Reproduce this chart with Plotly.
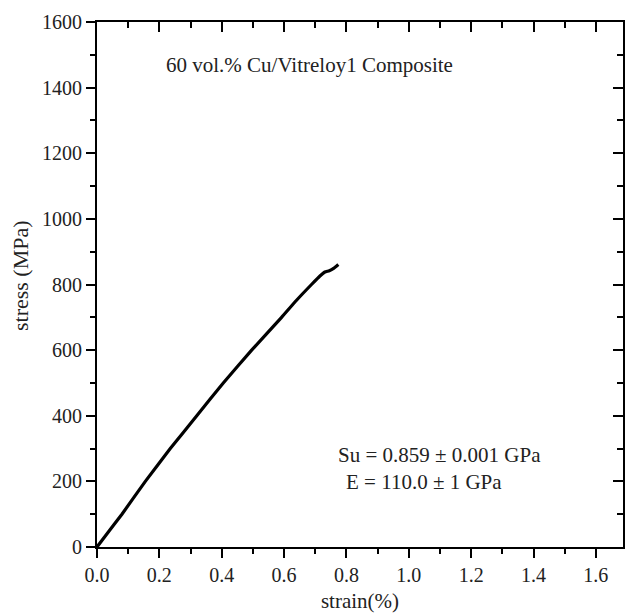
import plotly.graph_objects as go

strain = [0, 0.04, 0.08, 0.155, 0.235, 0.32, 0.405, 0.496, 0.592, 0.64, 0.688,
          0.715, 0.731, 0.745, 0.76, 0.774]
stress = [0, 50, 100, 200, 300, 400, 500, 600, 700, 752, 800,
          826, 838, 842, 850, 861]

x_ticks = [0.0, 0.2, 0.4, 0.6, 0.8, 1.0, 1.2, 1.4, 1.6]
x_labels = ["0.0", "0.2", "0.4", "0.6", "0.8", "1.0", "1.2", "1.4", "1.6"]
y_ticks = [0, 200, 400, 600, 800, 1000, 1200, 1400, 1600]

title_text = "60 vol.% Cu/Vitreloy1 Composite"
su_text = "Su = 0.859 ± 0.001 GPa"
e_text = "E = 110.0 ± 1 GPa"
x_title = "strain(%)"
y_title = "stress (MPa)"

FONT = "Liberation Serif"
XR = [0, 1.687]
YR = [0, 1600]

fig = go.Figure()
fig.add_trace(go.Scatter(x=strain, y=stress, mode="lines",
                         line=dict(color="black", width=3.2, shape="spline", smoothing=0.4),
                         showlegend=False))
# invisible trace for top/right axes
fig.add_trace(go.Scatter(x=[0], y=[0], xaxis="x2", yaxis="y2", mode="markers",
                         marker=dict(opacity=0), showlegend=False, hoverinfo="skip"))

axis_common = dict(showgrid=False, zeroline=False, showline=True, linecolor="black",
                   linewidth=2, tickcolor="black", tickwidth=2)

fig.update_layout(
    width=626, height=613,
    margin=dict(l=97, r=3, t=22, b=66),
    paper_bgcolor="white", plot_bgcolor="white",
    font=dict(family=FONT, size=20, color="#222"),
    xaxis=dict(range=XR, tickvals=x_ticks, ticktext=x_labels, ticks="outside",
               ticklen=9, tickfont=dict(size=20),
               minor=dict(dtick=0.1, ticks="outside", ticklen=5,
                          tickcolor="black", tickwidth=2),
               title=dict(text=x_title, font=dict(size=21), standoff=10),
               **axis_common),
    yaxis=dict(range=YR, tickvals=y_ticks, ticks="outside", ticklen=9,
               tickfont=dict(size=20),
               minor=dict(dtick=100, ticks="outside", ticklen=5,
                          tickcolor="black", tickwidth=2),
               **axis_common),
    xaxis2=dict(range=XR, overlaying="x", side="top", tickvals=x_ticks,
                showticklabels=False, ticks="inside", ticklen=10,
                minor=dict(dtick=0.1, ticks="inside", ticklen=6,
                           tickcolor="black", tickwidth=2),
                anchor="y2", **axis_common),
    yaxis2=dict(range=YR, overlaying="y", side="right", tickvals=y_ticks,
                showticklabels=False, ticks="inside", ticklen=10,
                minor=dict(dtick=100, ticks="inside", ticklen=6,
                           tickcolor="black", tickwidth=2),
                anchor="x2", **axis_common),
)

fig.add_annotation(x=-0.1464, y=0.518, xref="paper", yref="paper",
                   text=y_title, textangle=-90, showarrow=False,
                   font=dict(size=22), xanchor="center", yanchor="middle")
fig.add_annotation(x=0.68, y=1470, xref="x", yref="y", text=title_text,
                   showarrow=False, font=dict(size=21), xanchor="center", yanchor="middle")
fig.add_annotation(x=0.768, y=281, xref="x", yref="y", text=su_text,
                   showarrow=False, font=dict(size=21), xanchor="left", yanchor="middle")
fig.add_annotation(x=0.793, y=198, xref="x", yref="y", text=e_text,
                   showarrow=False, font=dict(size=21), xanchor="left", yanchor="middle")

fig.write_html("out.html")
